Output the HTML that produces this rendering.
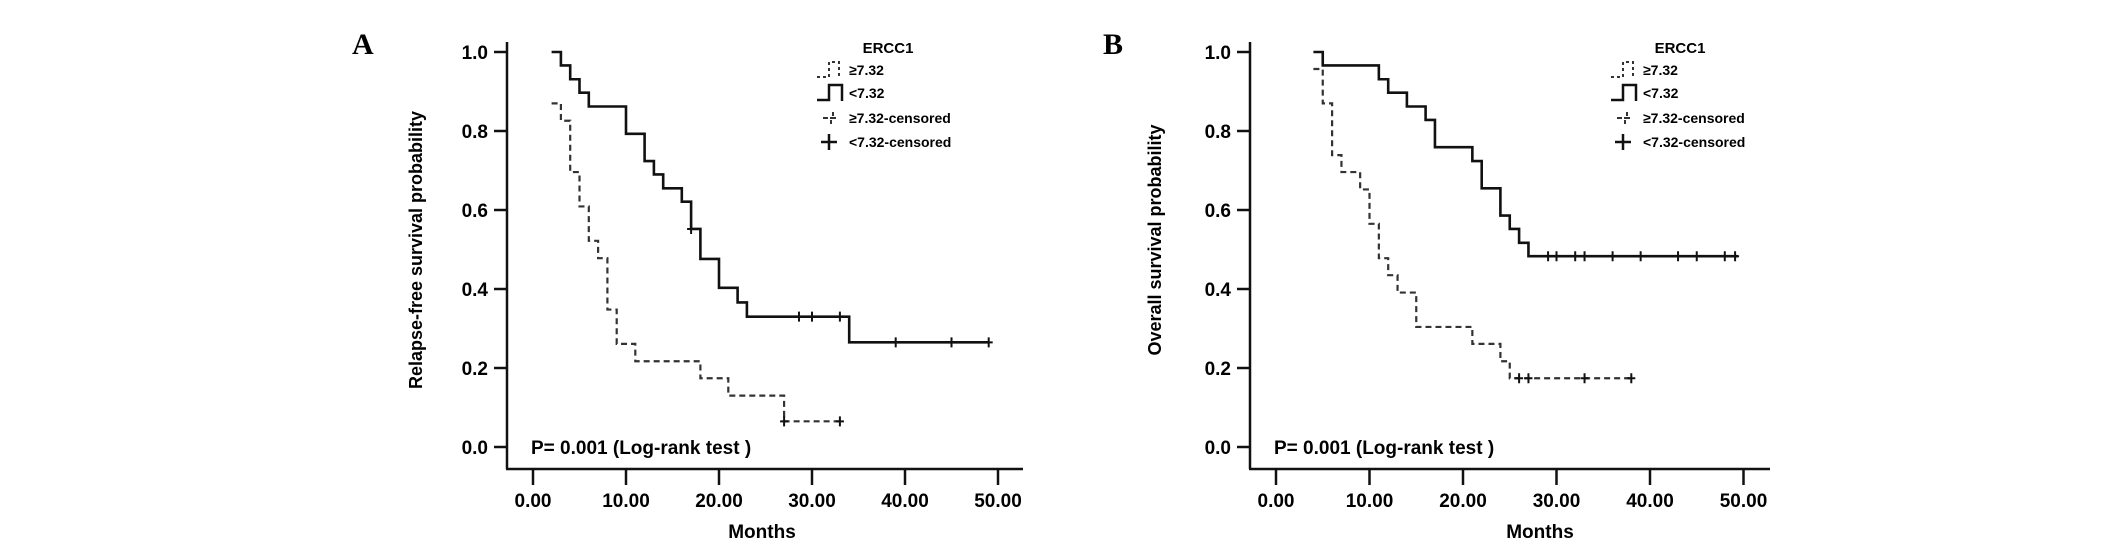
<!DOCTYPE html>
<html><head><meta charset="utf-8"><style>
html,body{margin:0;padding:0;background:#fff;}
svg{display:block;font-family:"Liberation Sans",Arial,sans-serif;font-weight:bold;}
</style></head><body>
<svg id="fig" width="2126" height="549" viewBox="0 0 2126 549" xmlns="http://www.w3.org/2000/svg"></svg>
<script>
// Panel A (relapse-free survival)
const xTicks = [0, 10, 20, 30, 40, 50];
const xTickLabels = ["0.00", "10.00", "20.00", "30.00", "40.00", "50.00"];
const yTicks = [0, 0.2, 0.4, 0.6, 0.8, 1.0];
const yTickLabels = ["0.0", "0.2", "0.4", "0.6", "0.8", "1.0"];

const aHighStart = 2;
const aHighTimes = [3, 4, 5, 6, 7, 8, 9, 11, 18, 21, 27];
const aHighSurv  = [0.870, 0.826, 0.696, 0.609, 0.522, 0.478, 0.348, 0.261, 0.217, 0.174, 0.130, 0.065];
const aHighEnd = 33;
const aHighCens = [27, 33];

const aLowStart = 2;
const aLowTimes = [3, 4, 5, 6, 10, 12, 13, 14, 16, 17, 18, 20, 22, 23, 34];
const aLowSurv  = [1.0, 0.966, 0.931, 0.897, 0.862, 0.793, 0.724, 0.690, 0.655, 0.621, 0.552, 0.476, 0.403, 0.366, 0.330, 0.265];
const aLowEnd = 49;
const aLowCens = [17, 28.6, 30, 33, 39, 45, 49];

// Panel B (overall survival)
const bHighStart = 4;
const bHighTimes = [5, 6, 7, 9, 10, 11, 12, 13, 15, 21, 24, 25];
const bHighSurv  = [0.957, 0.870, 0.739, 0.696, 0.652, 0.565, 0.478, 0.435, 0.391, 0.304, 0.261, 0.217, 0.174];
const bHighEnd = 38;
const bHighCens = [26, 27, 33, 38];

const bLowStart = 4;
const bLowTimes = [5, 11, 12, 14, 16, 17, 21, 22, 24, 25, 26, 27];
const bLowSurv  = [1.0, 0.966, 0.931, 0.897, 0.862, 0.828, 0.759, 0.724, 0.655, 0.586, 0.552, 0.517, 0.483];
const bLowEnd = 49.4;
const bLowCens = [29.1, 30, 32, 33, 36, 39, 43, 45, 48, 49.1];

const NS = "http://www.w3.org/2000/svg";
const svg = document.getElementById("fig");
function mk(tag, attrs, parent, text) {
  const e = document.createElementNS(NS, tag);
  for (const k in attrs) e.setAttribute(k, attrs[k]);
  if (text !== undefined) e.textContent = text;
  (parent || svg).appendChild(e);
  return e;
}

function panel(cfg) {
  const g = mk("g", {});
  
  
  const ax = cfg.axisX, x0 = cfg.x0, pxm = cfg.pxm, y1 = 52, y0 = 447, xAxisY = 469;
  const X = t => x0 + t * pxm;
  const Y = p => y0 - p * (y0 - y1);

  const lab = mk("text", {x: cfg.letterX, y: 54, "font-family": "Liberation Serif, serif", "font-size": 30, "font-weight": "bold"}, g, cfg.letter);
  
  

  const yl = mk("line", {x1: ax, y1: 42, x2: ax, y2: xAxisY, stroke: "#111", "stroke-width": 2.5}, g);
  
  
  const xl = mk("line", {x1: ax - 1, y1: xAxisY, x2: cfg.axisEnd, y2: xAxisY, stroke: "#111", "stroke-width": 2.5}, g);
  
  

  yTicks.forEach((v, i) => {
    mk("line", {x1: ax - 13, y1: Y(v), x2: ax, y2: Y(v), stroke: "#111", "stroke-width": 2.5}, g);
    const t = mk("text", {x: ax - 19, y: Y(v) + 7, "text-anchor": "end", "font-size": 19}, g, yTickLabels[i]);
    
    
  });
  xTicks.forEach((v, i) => {
    mk("line", {x1: X(v), y1: xAxisY, x2: X(v), y2: xAxisY + 16, stroke: "#111", "stroke-width": 2.5}, g);
    const t = mk("text", {x: X(v), y: 507, "text-anchor": "middle", "font-size": 19}, g, xTickLabels[i]);
    
    
  });
  const xt = mk("text", {x: cfg.monthsX, y: 538, "text-anchor": "middle", "font-size": 19}, g, "Months");
  
  
  const yt = mk("text", {x: 0, y: 0, "text-anchor": "middle", "font-size": 18, transform: `translate(${cfg.yTitleX},${cfg.yTitleY}) rotate(-90)`}, g, cfg.yTitle);
  
  
  const pv = mk("text", {x: ax + 24, y: 454, "font-size": 19}, g, "P= 0.001 (Log-rank test )");
  
  

  function curve(start, times, surv, end, cens, dashed, nm) {
    let d = `M${X(start)},${Y(surv[0])}`;
    times.forEach((t, i) => { d += ` H${X(t)} V${Y(surv[i + 1])}`; });
    d += ` H${X(end)}`;
    const p = mk("path", {d: d, fill: "none", stroke: dashed ? "#333" : "#111", "stroke-width": dashed ? 2.2 : 2.6, "stroke-dasharray": dashed ? "6,4" : "none"}, g);
    
    
    cens.forEach(c => {
      let s = surv[0];
      times.forEach((t, i) => { if (c >= t) s = surv[i + 1]; });
      const m = mk("path", {d: `M${X(c) - 4},${Y(s)} H${X(c) + 4} M${X(c)},${Y(s) - 5} V${Y(s) + 5}`, stroke: "#111", "stroke-width": 2}, g);
      
      
    });
  }
  curve(cfg.hStart, cfg.hT, cfg.hS, cfg.hEnd, cfg.hC, true, "high-ercc1");
  curve(cfg.lStart, cfg.lT, cfg.lS, cfg.lEnd, cfg.lC, false, "low-ercc1");

  // legend
  const lg = mk("g", {}, g);
  
  
  const tx = cfg.legTextX, ix = tx - 32;
  mk("text", {x: cfg.legTitleX, y: 53, "text-anchor": "middle", "font-size": 15}, lg, "ERCC1");
  const rows = [70, 93, 118, 142];
  const labels = ["\u2267 7.32".replace(" ", ""), "<7.32", "\u2267 7.32-censored".replace(" ", ""), "<7.32-censored"];
  mk("path", {d: `M${ix},${rows[0] + 7} H${ix + 12} V${rows[0] - 8} H${ix + 22} V${rows[0] + 7}`, fill: "none", stroke: "#333", "stroke-width": 2, "stroke-dasharray": "3,3"}, lg);
  mk("path", {d: `M${ix},${rows[1] + 7} H${ix + 12} V${rows[1] - 8} H${ix + 25} V${rows[1] + 8}`, fill: "none", stroke: "#111", "stroke-width": 2.5}, lg);
  mk("path", {d: `M${ix + 6},${rows[2]} H${ix + 11} M${ix + 16},${rows[2] - 6} V${rows[2] - 2} M${ix + 14},${rows[2] + 2} V${rows[2] + 6} M${ix + 13},${rows[2]} H${ix + 19}`, fill: "none", stroke: "#333", "stroke-width": 2}, lg);
  mk("path", {d: `M${ix + 4},${rows[3]} H${ix + 20} M${ix + 12},${rows[3] - 8} V${rows[3] + 8}`, fill: "none", stroke: "#111", "stroke-width": 2.5}, lg);
  labels.forEach((l, i) => {
    const t = mk("text", {x: tx, y: rows[i] + 5, "font-size": 14}, lg, l.replace("\u2267", "\u2265"));
    
    
  });
}

panel({name: "panel-a-relapse-free", letter: "A", letterX: 352, axisX: 507, axisEnd: 1023, x0: 533, pxm: 9.3,
  monthsX: 762, yTitleX: 422, yTitleY: 250, yTitle: "Relapse-free survival probability",
  legTitleX: 888, legTextX: 849,
  hStart: aHighStart, hT: aHighTimes, hS: aHighSurv, hEnd: aHighEnd, hC: aHighCens,
  lStart: aLowStart, lT: aLowTimes, lS: aLowSurv, lEnd: aLowEnd, lC: aLowCens});
panel({name: "panel-b-overall", letter: "B", letterX: 1103, axisX: 1250, axisEnd: 1770, x0: 1276, pxm: 9.35,
  monthsX: 1540, yTitleX: 1161, yTitleY: 240, yTitle: "Overall survival probability",
  legTitleX: 1680, legTextX: 1643,
  hStart: bHighStart, hT: bHighTimes, hS: bHighSurv, hEnd: bHighEnd, hC: bHighCens,
  lStart: bLowStart, lT: bLowTimes, lS: bLowSurv, lEnd: bLowEnd, lC: bLowCens});
</script>
</body></html>
